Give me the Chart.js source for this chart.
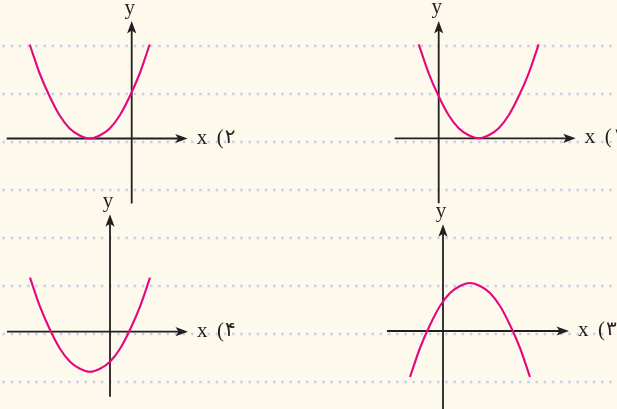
<!DOCTYPE html>
<html>
<head>
<meta charset="utf-8">
<script src="https://cdn.jsdelivr.net/npm/chart.js@4"></script>
<style>
  html, body { margin: 0; padding: 0; background: #fdf9ec; }
  canvas { display: block; }
</style>
</head>
<body>
<canvas id="chart" width="617" height="409"></canvas>
<script>
// ================= DATA =================
// panel labels, in the order the panels are listed below
const panelLabels = ["۱", "۲", "۳", "۴"];

// curve points, in axis units
const p1X = [-1.0, -0.5, 0, 0.5, 1.0, 1.5, 2.0, 2.5, 3.0, 3.5, 4.0, 4.5, 5.0];
const p1Y = [4.7, 3.25, 2.1, 1.15, 0.5, 0.15, 0, 0.15, 0.5, 1.15, 2.1, 3.25, 4.7];

const p2X = [-5.1, -4.6, -4.1, -3.6, -3.1, -2.6, -2.1, -1.6, -1.1, -0.6, -0.1, 0.4, 0.9];
const p2Y = [4.7, 3.25, 2.1, 1.15, 0.5, 0.15, 0, 0.15, 0.5, 1.15, 2.1, 3.25, 4.7];

const p3X = [-1.65, -1.15, -0.65, -0.15, 0.35, 0.85, 1.35, 1.85, 2.35, 2.85, 3.35, 3.85, 4.35];
const p3Y = [-2.3, -0.85, 0.3, 1.25, 1.9, 2.25, 2.4, 2.25, 1.9, 1.25, 0.3, -0.85, -2.3];

const p4X = [-4.0, -3.5, -3.0, -2.5, -2.0, -1.5, -1.0, -0.5, 0, 0.5, 1.0, 1.5, 2.0];
const p4Y = [2.7, 1.25, 0.1, -0.85, -1.5, -1.85, -2.0, -1.85, -1.5, -0.85, 0.1, 1.25, 2.7];

// how far each drawn axis reaches, in axis units
const xAxisRange = [[-2.2, 6.85], [-6.25, 2.8], [-2.8, 6.3], [-5.15, 3.9]];
const yAxisRange = [[-3.25, 5.87], [-3.25, 5.87], [-3.9, 5.34], [-3.25, 5.87]];

// ruled notebook lines
const gridRows = [0, 1, 2, 3, 4, 5, 6, 7];

// ================= LAYOUT =================
const W = 617, H = 409;
const UNIT = 20; // px per axis unit
const origins = [[438.7, 138.3], [131.7, 138.5], [443, 331], [110, 331.7]];
const GRID_TOP = 46, GRID_GAP = 48;

const curveColor = "#e4087e";
const axisColor = "#231f20";
const dotColor = "#c8cde8";
const bgColor = "#fdf9ec";

const curves = [[p1X, p1Y], [p2X, p2Y], [p3X, p3Y], [p4X, p4Y]];

// ================= SCALES =================
const scales = {
  gx: { type: "linear", axis: "x", display: false, min: 0, max: 1 },
  gy: {
    type: "linear", axis: "y", display: false, reverse: true,
    min: -GRID_TOP / GRID_GAP, max: (H - GRID_TOP) / GRID_GAP
  }
};
origins.forEach(([ox, oy], i) => {
  scales["x" + i] = { type: "linear", axis: "x", display: false, min: -ox / UNIT, max: (W - ox) / UNIT };
  scales["y" + i] = { type: "linear", axis: "y", display: false, min: -(H - oy) / UNIT, max: oy / UNIT };
});

const datasets = curves.map(([xs, ys], i) => ({
  data: xs.map((x, k) => ({ x, y: ys[k] })),
  xAxisID: "x" + i,
  yAxisID: "y" + i,
  borderColor: curveColor,
  borderWidth: 2.1,
  pointRadius: 0,
  fill: false,
  cubicInterpolationMode: "monotone"
}));

// ================= DRAW HELPERS =================
function arrowHead(ctx, x, y, dx, dy) {
  // tip at (x, y), pointing along (dx, dy)
  const len = 12.5, half = 4.6, notch = 9.5;
  const px = -dy, py = dx;
  ctx.beginPath();
  ctx.moveTo(x, y);
  ctx.lineTo(x - dx * len + px * half, y - dy * len + py * half);
  ctx.lineTo(x - dx * notch, y - dy * notch);
  ctx.lineTo(x - dx * len - px * half, y - dy * len - py * half);
  ctx.closePath();
  ctx.fill();
}

const paperPlugin = {
  id: "paper",
  beforeDraw(chart) {
    const ctx = chart.ctx;
    ctx.save();
    ctx.fillStyle = bgColor;
    ctx.fillRect(0, 0, chart.width, chart.height);
    ctx.restore();
  },
  beforeDatasetsDraw(chart) {
    const ctx = chart.ctx;
    const gx = chart.scales.gx, gy = chart.scales.gy;

    // dotted notebook lines
    ctx.save();
    ctx.strokeStyle = dotColor;
    ctx.lineWidth = 2.5;
    ctx.setLineDash([2.4, 5.8]);
    ctx.lineDashOffset = 5.7;
    gridRows.forEach(r => {
      const y = Math.round(gy.getPixelForValue(r));
      ctx.beginPath();
      ctx.moveTo(gx.getPixelForValue(0), y);
      ctx.lineTo(gx.getPixelForValue(1), y);
      ctx.stroke();
    });
    ctx.restore();

    // axes, arrows and labels
    ctx.save();
    ctx.strokeStyle = axisColor;
    ctx.fillStyle = axisColor;
    ctx.lineWidth = 1.8;
    origins.forEach((_, i) => {
      const xs = chart.scales["x" + i], ys = chart.scales["y" + i];
      const x0 = xs.getPixelForValue(0), y0 = ys.getPixelForValue(0);
      const xa = xs.getPixelForValue(xAxisRange[i][0]);
      const xb = xs.getPixelForValue(xAxisRange[i][1]);
      const ya = ys.getPixelForValue(yAxisRange[i][0]);
      const yb = ys.getPixelForValue(yAxisRange[i][1]);

      ctx.beginPath();
      ctx.moveTo(xa, y0);
      ctx.lineTo(xb - 9, y0);
      ctx.moveTo(x0, ya);
      ctx.lineTo(x0, yb + 9);
      ctx.stroke();
      arrowHead(ctx, xb, y0, 1, 0);
      arrowHead(ctx, x0, yb, 0, -1);

      ctx.font = "21px 'Liberation Serif', 'DejaVu Serif', serif";
      ctx.textBaseline = "alphabetic";
      ctx.textAlign = "center";
      ctx.fillText("y", x0 - 2, yb - 7.5);
      ctx.textAlign = "left";
      ctx.fillText("x", xb + 9, y0 + 5);
      ctx.fillText("(", xb + 29, y0 + 5);
      ctx.font = "20px 'DejaVu Sans', sans-serif";
      ctx.fillText(panelLabels[i], xb + 37, y0 + 4);
    });
    ctx.restore();
  }
};

// ================= CHART =================
new Chart(document.getElementById("chart"), {
  type: "line",
  data: { datasets },
  options: {
    responsive: false,
    animation: false,
    events: [],
    layout: { padding: 0 },
    scales,
    plugins: {
      legend: { display: false },
      tooltip: { enabled: false },
      title: { display: false }
    }
  },
  plugins: [paperPlugin]
});
</script>
</body>
</html>
